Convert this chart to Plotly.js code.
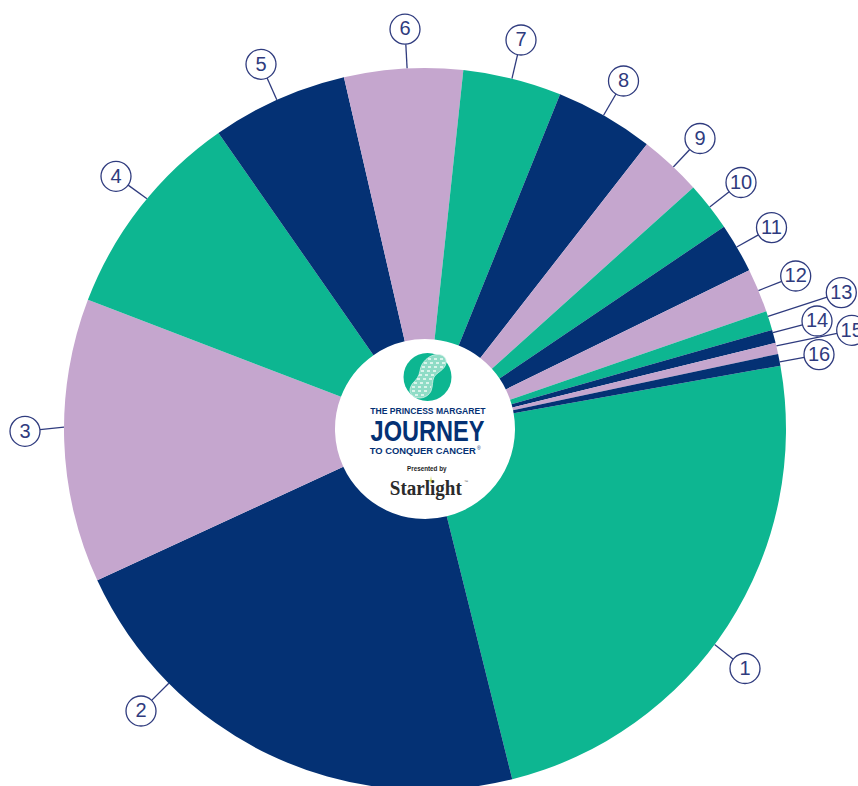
<!DOCTYPE html>
<html>
<head>
<meta charset="utf-8">
<script src="https://cdn.plot.ly/plotly-3.0.1.min.js"></script>
<style>
html,body{margin:0;padding:0;width:858px;height:786px;overflow:hidden;background:#fff}
#chart{width:858px;height:860px}
</style>
</head>
<body>
<div id="chart"></div>
<script>
// Data (share of the ring, percent)
const categories = ["1","2","3","4","5","6","7","8","9","10","11","12","13","14","15","16"];
const values = [23.92,22.0,12.71,9.48,6.09,5.30,4.41,4.43,2.80,2.20,2.22,1.96,0.86,0.59,0.50,0.53];
const sliceColors = ["#0DB691","#043174","#C5A6CE","#0DB691","#043174","#C5A6CE","#0DB691","#043174",
                     "#C5A6CE","#0DB691","#043174","#C5A6CE","#0DB691","#043174","#C5A6CE","#043174"];

// Layout
const W = 858, H = 860, cx = 425, cy = 429, R = 361, holeR = 90, startAngle = 79.9;
const ink = "#2F3B7E", navy = "#043174", green = "#0DB691";
const badgeX = [745,141,25,116,261,405,521,623.5,700,741,771.5,795.7,841.3,817,851.7,819];
const badgeY = [668.5,711,431.3,176.3,64.3,29.2,40,81,138.5,182.5,227.6,276,292.6,321,330.3,354.6];
const leaderShift = [3.7,19.6,2.2,1.6,-0.3,0.6,-0.1,-0.3,0.5,0.1,-0.2,0,-0.7,-0.6,-0.4,0.35];
const badgeR = 15;
const textNudge = 1.2;

// Leaders start on the rim at each slice's angle and stop at the badge edge
const total = values.reduce((a,b)=>a+b,0);
let run = startAngle;
const lx = [], ly = [];
values.forEach((v,i)=>{
  const sweep = v/total*360;
  const a = (run + sweep/2 + leaderShift[i]) * Math.PI/180;
  run += sweep;
  const x0 = cx + R*Math.sin(a), y0 = cy - R*Math.cos(a);
  const dx = x0-badgeX[i], dy = y0-badgeY[i], d = Math.hypot(dx,dy);
  lx.push(x0, badgeX[i]+dx/d*badgeR, null);
  ly.push(y0, badgeY[i]+dy/d*badgeR, null);
});

const traces = [
  {type:"pie", labels:categories, values:values, sort:false, direction:"clockwise",
   rotation:startAngle, hole:holeR/R, textinfo:"none", hoverinfo:"label+percent",
   marker:{colors:sliceColors, line:{width:0}}, showlegend:false,
   domain:{x:[(cx-R)/W,(cx+R)/W], y:[(H-cy-R)/H,(H-cy+R)/H]}},
  {type:"scatter", mode:"lines", x:lx, y:ly, line:{color:ink,width:1.3}, hoverinfo:"skip", showlegend:false},
  {type:"scatter", mode:"markers", x:badgeX, y:badgeY,
   marker:{symbol:"circle", size:2*badgeR, color:"#fff", line:{color:ink,width:1.3}},
   hoverinfo:"skip", showlegend:false, cliponaxis:false},
  {type:"scatter", mode:"text", x:badgeX, y:badgeY.map(v=>v+textNudge), text:categories, textposition:"middle center",
   textfont:{family:"Liberation Sans, Arial, sans-serif", size:20, color:ink},
   hoverinfo:"skip", showlegend:false, cliponaxis:false}
];

const logoFont = "Liberation Sans, Arial, sans-serif";
const note = (text,x,y,size,family,color,weight) => ({
  text, x, y, xref:"x", yref:"y", showarrow:false, xanchor:"center", yanchor:"middle",
  font:{family, size, color, weight:weight||400}, borderpad:0});

// Logo artwork inside the hole
const shoe = "M437,354.5 C443,354 447,358 446,363 C445,370 437,372 434,377 C432,381 433,386 431,391 " +
             "C428,398 418,400 413,396 C408,392 410,387 413,383 C417,379 419,376 420,371 C421,362 429,355 437,354.5 Z";
const tread = "M428,359 L444,359 M424,363 L445,363 M422,367 L443,367 M421,371 L439,371 M419,375 L435,375 " +
              "M417,379 L433,379 M414,383 L432,383 M412,387 L431,387 M412,391 L430,391 M415,395 L427,395";
const star = "M431,476 L431.6,480 L435,480.7 L431.6,481.4 L431,485 L430.4,481.4 L427,480.7 L430.4,480 Z";

const layout = {
  width:W, height:H, margin:{l:0,r:0,t:0,b:0},
  paper_bgcolor:"#fff", plot_bgcolor:"rgba(0,0,0,0)", showlegend:false,
  xaxis:{range:[0,W], visible:false, fixedrange:true},
  yaxis:{range:[H,0], visible:false, fixedrange:true},
  shapes:[
    {type:"circle", xref:"x", yref:"y", x0:403.5, x1:451.5, y0:353, y1:401, fillcolor:green, line:{width:0}},
    {type:"path", xref:"x", yref:"y", path:shoe, fillcolor:"#8FDCC6", line:{color:"#D8F3EA",width:0.8}},
    {type:"path", xref:"x", yref:"y", path:tread, line:{color:"#F2FBF8",width:1.5,dash:"dot"}},
    {type:"path", xref:"x", yref:"y", path:star, fillcolor:"#C6CF4A", line:{width:0}}
  ],
  annotations:[
    note("THE PRINCESS MARGARET",427.5,410.5,9.5,logoFont,navy,700),
    note("JOURNEY",427,430,30,logoFont,navy,700),
    note("TO CONQUER CANCER",423,450,9.5,logoFont,navy,700),
    note("®",479,448,5,logoFont,navy),
    note("Presented by",427.2,468.5,6.3,logoFont,"#1c1c1c",700),
    note("Starlight",425.8,488.5,20,"Liberation Serif, serif","#2b2b2b",700),
    note("™",466,481,4,logoFont,"#555")
  ]
};

// Fit the logo wordmarks to their measured widths
const fitWidths = {"THE PRINCESS MARGARET":115, "JOURNEY":114, "TO CONQUER CANCER":106, "Starlight":72};

Plotly.newPlot("chart", traces, layout, {displayModeBar:false, responsive:false}).then(()=>{
  document.querySelectorAll("#chart .annotation-text").forEach(t=>{
    const w = fitWidths[t.textContent];
    if (w) { t.setAttribute("textLength", w); t.setAttribute("lengthAdjust","spacingAndGlyphs"); }
  });
});
</script>
</body>
</html>
